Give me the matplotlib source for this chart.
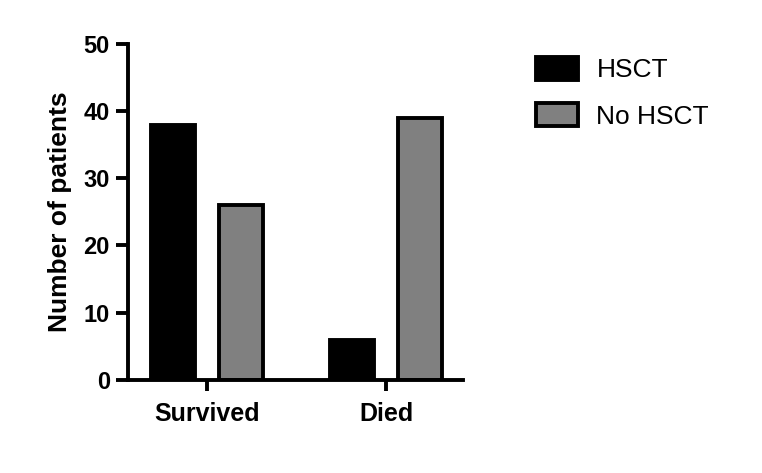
import matplotlib
matplotlib.use("Agg")
import matplotlib.pyplot as plt
import numpy as np

plt.rcParams['font.family'] = ['Liberation Sans', 'DejaVu Sans']

categories = ["Survived", "Died"]
groups = ["HSCT", "No HSCT"]
hsct = [38, 6]
no_hsct = [26, 39]
colors = ["#000000", "#808080"]

fig = plt.figure(figsize=(7.62, 4.73), dpi=100)
ax = fig.add_axes([0.168, 0.197, 0.44, 0.71])

x = np.arange(len(categories))
w = 0.245
off = 0.19
ax.bar(x - off, hsct, w, color=colors[0], edgecolor="black", linewidth=2.8, label=groups[0])
ax.bar(x + off, no_hsct, w, color=colors[1], edgecolor="black", linewidth=2.8, label=groups[1])

ax.set_xlim(-0.44, 1.43)
ax.set_ylim(0, 50)
ax.set_yticks([0, 10, 20, 30, 40, 50])
ax.set_xticks(x)
ax.set_xticklabels(categories, fontsize=18, fontweight="bold")
for lbl in ax.get_yticklabels():
    lbl.set_fontsize(17)
    lbl.set_fontweight("bold")
ax.set_ylabel("Number of patients", fontsize=19, fontweight="bold", labelpad=8)

for s in ["top", "right"]:
    ax.spines[s].set_visible(False)
for s in ["left", "bottom"]:
    ax.spines[s].set_linewidth(2.8)
ax.tick_params(axis="y", width=2.8, length=9, pad=4)
ax.tick_params(axis="x", width=2.8, length=8, pad=8)

leg = ax.legend(loc="upper left", bbox_to_anchor=(0.703, 0.88), bbox_transform=fig.transFigure,
                frameon=False, fontsize=19, handlelength=1.6, handleheight=0.95,
                handletextpad=0.7, labelspacing=0.8, borderpad=0, borderaxespad=0)

fig.savefig("out.png", dpi=100)
